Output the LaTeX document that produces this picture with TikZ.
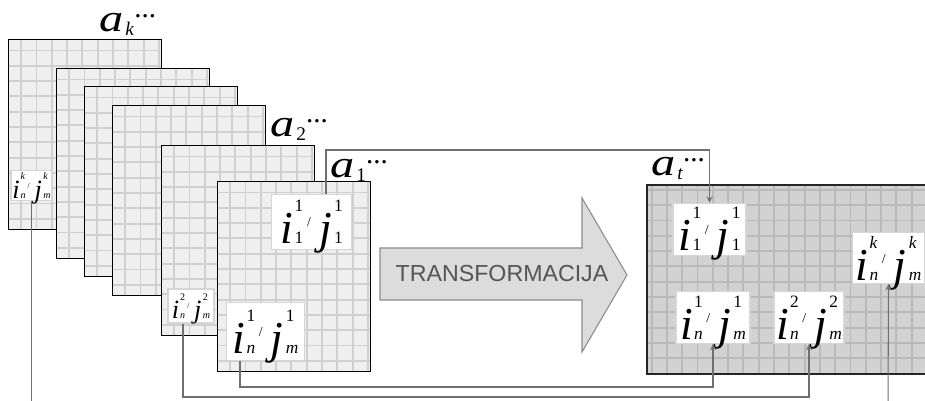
\documentclass[tikz,border=0pt]{standalone}
\usepackage{graphicx}
\usepackage{fontspec}
\setmainfont{Liberation Serif}
\newfontfamily\arialfont{Liberation Sans}
\usetikzlibrary{arrows,positioning,calc}

\definecolor{sheetfill}{HTML}{EFEFEF}
\definecolor{sheetline}{HTML}{D0D0D0}
\definecolor{targetfill}{HTML}{D2D2D2}
\definecolor{targetline}{HTML}{B9B9B9}
\definecolor{connline}{HTML}{6F6F6F}
\definecolor{arrowfill}{HTML}{DCDCDC}
\definecolor{arrowline}{HTML}{8A8A8A}
\definecolor{labelframe}{HTML}{D6D6D6}
\definecolor{transtext}{HTML}{555555}

% grid of cells inside a sheet: x offset, y offset, last column, last row
\newcommand\cellgrid[4]{%
  \foreach \gx in {0,...,#3}
    \draw[gridline] ([shift={({#1+15.3*\gx},0)}]path picture bounding box.north west) -- ++(0,400);
  \foreach \gy in {0,...,#4}
    \draw[gridline] ([shift={(0,{#2+15.3*\gy})}]path picture bounding box.north west) -- ++(600,0);}

% stacked upper and lower index
\newcommand\supsub[2]{\ooalign{\raisebox{0.7em}{\scalebox{0.38}{#1}}\cr\scalebox{0.38}{#2}\cr}}
% i/j index pair
\newcommand\idxpair[4]{\textit{i}\kern0.03em\supsub{#1}{#2}\kern0.08em%
  \raisebox{0.37em}{\scalebox{0.3}{/}}\kern0.18em\textit{j}\kern0.05em\supsub{#3}{#4}}
% set name a_x...
\newcommand\alab[1]{\scalebox{1.25}[1]{\textit{a}}\kern0.05em\raisebox{-0.08em}{\scalebox{0.5}{#1}}%
  \raisebox{0.38em}{\scalebox{0.75}{...}}}

\tikzset{
  gridline/.style={line width=1.1pt},
  sheet/.style={draw=black,line width=0.6pt,fill=sheetfill,anchor=north west,inner sep=0pt,
    minimum width=3.06cm,minimum height=3.8cm,
    path picture={\tikzset{gridline/.append style={draw=sheetline}}\cellgrid{12.7}{11}{9}{11}}},
  target/.style={draw=black!85,line width=1pt,fill=targetfill,anchor=north west,inner sep=0pt,
    minimum width=6cm,minimum height=3.78cm,
    path picture={\tikzset{gridline/.append style={draw=targetline}}\cellgrid{4.7}{5}{18}{11}}},
  idx/.style={draw=labelframe,fill=white,line width=0.6pt,inner sep=0pt,text depth=0pt},
  bigidx/.style={idx,font=\fontsize{26}{26}\selectfont},
  smallidx/.style={idx,font=\fontsize{15}{15}\selectfont},
  setname/.style={anchor=base west,inner sep=0pt,font=\fontsize{22}{22}\selectfont},
  conn/.style={draw=connline,line width=0.6pt},
}

\begin{document}
\begin{tikzpicture}[x=0.02cm,y=-0.02cm,>=stealth]
\useasboundingbox (0,0) rectangle (925,401);
% source sheets
\node[sheet] (sak) at (8,39) {};
\node[sheet] (sb) at (56,68) {};
\node[sheet] (sc) at (84,86) {};
\node[sheet] (sd) at (112,105) {};
\node[sheet] (sa2) at (161,145) {};
\node[sheet] (sa1) at (217,181) {};
% target sheet
\node[target] (sat) at (646,184) {};

\node[setname] (lk) at (99,32) {\alab{\textit{k}}};
\node[setname] (l2) at (270,137) {\alab{2}};
\node[setname] (l1) at (330,178) {\alab{1}};
\node[setname] (lt) at (651,176) {\alab{\textit{t}}};

% transformation arrow
\filldraw[fill=arrowfill,draw=arrowline,line width=0.6pt]
  (380,248) -- (582,248) -- (582,198) -- (627,275) -- (582,352) -- (582,300) -- (380,300) -- cycle;
\node[anchor=base,text=transtext,font=\arialfont\fontsize{13.2}{13.2}\selectfont] (trans) at (502,282) {TRANSFORMACIJA};

% index boxes
\node[smallidx,minimum width=0.82cm,minimum height=0.6cm] (bkn) at (31.5,185.5) {\idxpair{\textit{k}}{\textit{n}}{\textit{k}}{\textit{m}}};
\node[smallidx,minimum width=0.92cm,minimum height=0.68cm] (b2n) at (191,306) {\idxpair{2}{\textit{n}}{2}{\textit{m}}};
\node[bigidx,minimum width=1.6cm,minimum height=1.1cm] (b11) at (311.7,221.8) {\idxpair{1}{1}{1}{1}};
\node[bigidx,minimum width=1.56cm,minimum height=1.16cm] (b1n) at (265.5,331.8) {\idxpair{1}{\textit{n}}{1}{\textit{m}}};
\node[bigidx,minimum width=1.46cm,minimum height=1.04cm] (t11) at (709.5,229.2) {\idxpair{1}{1}{1}{1}};
\node[bigidx,minimum width=1.48cm,minimum height=1.04cm] (t1n) at (713,317.5) {\idxpair{1}{\textit{n}}{1}{\textit{m}}};
\node[bigidx,minimum width=1.4cm,minimum height=1.04cm] (t2n) at (809,317.5) {\idxpair{2}{\textit{n}}{2}{\textit{m}}};
\node[bigidx,minimum width=1.44cm,minimum height=1.02cm] (tkn) at (888.5,258) {\idxpair{\textit{k}}{\textit{n}}{\textit{k}}{\textit{m}}};

% connectors
\coordinate (up) at (326,150);
\coordinate (low1) at (240,387);
\coordinate (low2) at (183,397);
\coordinate (outk) at (31,406);
\coordinate (ink) at (888,406);
\draw[conn,->] (b11.north -| up) -- (up) -| (t11.north);
\draw[conn,->] (b1n.south -| low1) -- (low1) -| (t1n.south);
\draw[conn,->] (b2n.south -| low2) -- (low2) -| (t2n.south);
\draw[conn] (bkn.south) -- (bkn.south |- outk);
\draw[conn,->] (ink) -- (tkn.south);
\end{tikzpicture}
\end{document}
